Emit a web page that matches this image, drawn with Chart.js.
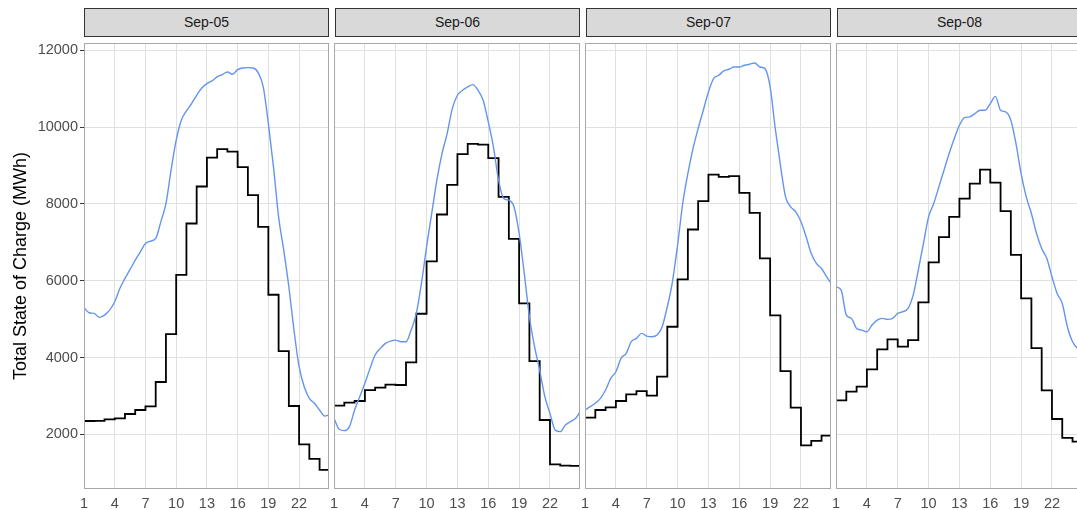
<!DOCTYPE html>
<html>
<head>
<meta charset="utf-8">
<title>Total State of Charge</title>
<script src="https://cdn.jsdelivr.net/npm/chart.js@4.4.1/dist/chart.umd.min.js"></script>
<style>
    body { margin: 0; width: 1077px; height: 510px; overflow: hidden; background: #fff; position: relative; }
    canvas { position: absolute; top: 0; }
    .strip {
        position: absolute; top: 8px; height: 29px; width: 245px; box-sizing: border-box;
        background: #D9D9D9; border: 1px solid #333; color: #1A1A1A;
        font-family: "Liberation Sans", Arial, sans-serif; font-size: 14px;
        line-height: 27px; text-align: center;
    }
</style>
</head>
<body>
<script>
var days = ['Sep-05', 'Sep-06', 'Sep-07', 'Sep-08'];
var hours = [1, 2, 3, 4, 5, 6, 7, 8, 9, 10, 11, 12, 13, 14, 15, 16, 17, 18, 19, 20, 21, 22, 23, 24];
var halfHours = [1, 1.5, 2, 2.5, 3, 3.5, 4, 4.5, 5, 5.5, 6, 6.5, 7, 7.5, 8, 8.5, 9, 9.5, 10, 10.5,
    11, 11.5, 12, 12.5, 13, 13.5, 14, 14.5, 15, 15.5, 16, 16.5, 17, 17.5, 18, 18.5, 19, 19.5, 20, 20.5,
    21, 21.5, 22, 22.5, 23, 23.5, 24, 24.5, 24.92];
var xTicks = [1, 4, 7, 10, 13, 16, 19, 22];
var yTicks = [2000, 4000, 6000, 8000, 10000, 12000];

// hourly values (black steps)
var hourly05 = [2347, 2350, 2390, 2416, 2529, 2633, 2728, 3362, 4611, 6154, 7490, 8453, 9207, 9424, 9363, 8956, 8227, 7403, 5634, 4168, 2737, 1740, 1358, 1072];
var hourly06 = [2746, 2824, 2867, 3153, 3214, 3292, 3284, 3873, 5140, 6501, 7724, 8496, 9294, 9563, 9545, 9190, 8184, 7091, 5408, 3908, 2373, 1219, 1185, 1176];
var hourly07 = [2434, 2633, 2702, 2867, 3041, 3127, 3006, 3500, 4801, 6033, 7334, 8071, 8765, 8704, 8721, 8288, 7767, 6579, 5096, 3648, 2694, 1714, 1827, 1965];
var hourly08 = [2885, 3110, 3240, 3691, 4212, 4472, 4281, 4454, 5434, 6475, 7134, 7663, 8140, 8530, 8894, 8556, 7810, 6675, 5538, 4246, 3145, 2399, 1905, 1809];

// real-time values (blue line), read every half hour
var realtime05 = [5296, 5166, 5148, 5044, 5105, 5235, 5452, 5799, 6059, 6293, 6536, 6753, 6970, 7030, 7100, 7533, 8010, 8877, 9658, 10179,
    10421, 10612, 10829, 11020, 11133, 11202, 11306, 11367, 11436, 11376, 11497, 11540, 11549, 11540, 11419, 11046, 10092, 8965, 7663, 6796,
    5842, 4715, 3761, 3240, 2937, 2807, 2633, 2477, 2503];
var realtime06 = [2416, 2130, 2095, 2200, 2633, 2980, 3327, 3717, 4064, 4238, 4368, 4428, 4454, 4411, 4411, 4715, 5148, 5929, 6883, 7750,
    8617, 9311, 9832, 10482, 10829, 10959, 11046, 11107, 10959, 10699, 10135, 9485, 8617, 8140, 8097, 7924, 7230, 6189, 5062, 4281,
    3674, 2980, 2546, 2113, 2069, 2243, 2330, 2416, 2590];
var realtime07 = [2633, 2720, 2807, 2937, 3153, 3457, 3630, 3977, 4108, 4411, 4498, 4628, 4558, 4541, 4585, 4801, 5322, 5972, 6926, 8010,
    8791, 9441, 9962, 10439, 10916, 11263, 11350, 11462, 11506, 11566, 11566, 11610, 11636, 11670, 11566, 11523, 11046, 9962, 9008, 8184,
    7924, 7793, 7533, 7143, 6709, 6449, 6319, 6102, 5929];
var realtime08 = [5842, 5755, 5105, 5018, 4758, 4715, 4671, 4845, 4975, 5018, 4992, 5018, 5148, 5192, 5278, 5625, 6276, 6969, 7663, 8010,
    8444, 8877, 9311, 9701, 10048, 10248, 10265, 10352, 10439, 10439, 10612, 10800, 10439, 10395, 10179, 9571, 8790, 8184, 7750, 7230,
    6840, 6579, 6102, 5669, 5408, 4801, 4411, 4238, 4200];

var hourly = [hourly05, hourly06, hourly07, hourly08];
var realtime = [realtime05, realtime06, realtime07, realtime08];

var panelLeft = [84, 335, 586, 837];
var fontFamily = '"Liberation Sans", Arial, sans-serif';
Chart.defaults.font.family = fontFamily;

// grey frame around each panel
var panelBorder = {
    id: 'panelBorder',
    afterDatasetsDraw: function (chart) {
        var a = chart.chartArea;
        var ctx = chart.ctx;
        ctx.save();
        ctx.strokeStyle = '#A8A8A8';
        ctx.lineWidth = 1;
        ctx.strokeRect(a.left + 0.5, a.top + 0.5, a.right - a.left - 1, a.bottom - a.top - 1);
        ctx.restore();
    }
};

function makePanel(i) {
    var first = (i === 0);
    var canvas = document.createElement('canvas');
    // chart.js keeps ~11px on the left of the inner panels for the "1" label
    canvas.width = first ? 330 : 257;
    canvas.height = 510;
    canvas.style.left = (first ? 0 : panelLeft[i] - 11) + 'px';
    document.body.appendChild(canvas);

    var strip = document.createElement('div');
    strip.className = 'strip';
    strip.style.left = panelLeft[i] + 'px';
    strip.textContent = days[i];
    document.body.appendChild(strip);

    var blackPts = hours.map(function (h, k) { return { x: h, y: hourly[i][k] }; });
    blackPts.push({ x: 24.92, y: hourly[i][hourly[i].length - 1] });
    var bluePts = halfHours.map(function (h, k) { return { x: h, y: realtime[i][k] }; });

    new Chart(canvas, {
        type: 'line',
        data: {
            datasets: [
                { data: bluePts, borderColor: '#6495ED', borderWidth: 1.4, pointRadius: 0, cubicInterpolationMode: 'monotone', fill: false },
                { data: blackPts, borderColor: '#000000', borderWidth: 1.8, pointRadius: 0, stepped: true, fill: false }
            ]
        },
        options: {
            responsive: false,
            animation: false,
            devicePixelRatio: 1,
            layout: { padding: { left: 0, right: 1, top: 43, bottom: 0 } },
            plugins: { legend: { display: false }, tooltip: { enabled: false } },
            scales: {
                x: {
                    type: 'linear',
                    min: 1,
                    max: 24.92,
                    afterBuildTicks: function (s) { s.ticks = xTicks.map(function (v) { return { value: v }; }); },
                    afterFit: function (s) { s.height = 21; },
                    grid: { color: '#E0E0E0', drawTicks: false },
                    border: { display: false },
                    ticks: {
                        color: '#4D4D4D', font: { size: 14.5 }, padding: 6, autoSkip: false, maxRotation: 0,
                        callback: function (v) { return String(v); }
                    }
                },
                y: {
                    min: 576,
                    max: 12190,
                    afterBuildTicks: function (s) { s.ticks = yTicks.map(function (v) { return { value: v }; }); },
                    afterFit: function (s) { s.width = first ? 84 : 0; },
                    grid: { color: '#E0E0E0', drawTicks: first, tickLength: 4, tickColor: '#333333' },
                    border: { display: false },
                    ticks: {
                        display: first, color: '#4D4D4D', font: { size: 14.5 }, padding: 2,
                        callback: function (v) { return String(v); }
                    },
                    title: {
                        display: first, text: 'Total State of Charge (MWh)', color: '#000000',
                        font: { size: 18 }, padding: { top: 10, bottom: 0 }
                    }
                }
            }
        },
        plugins: [panelBorder]
    });
}

for (var i = 0; i < days.length; i++) {
    makePanel(i);
}
</script>
</body>
</html>
